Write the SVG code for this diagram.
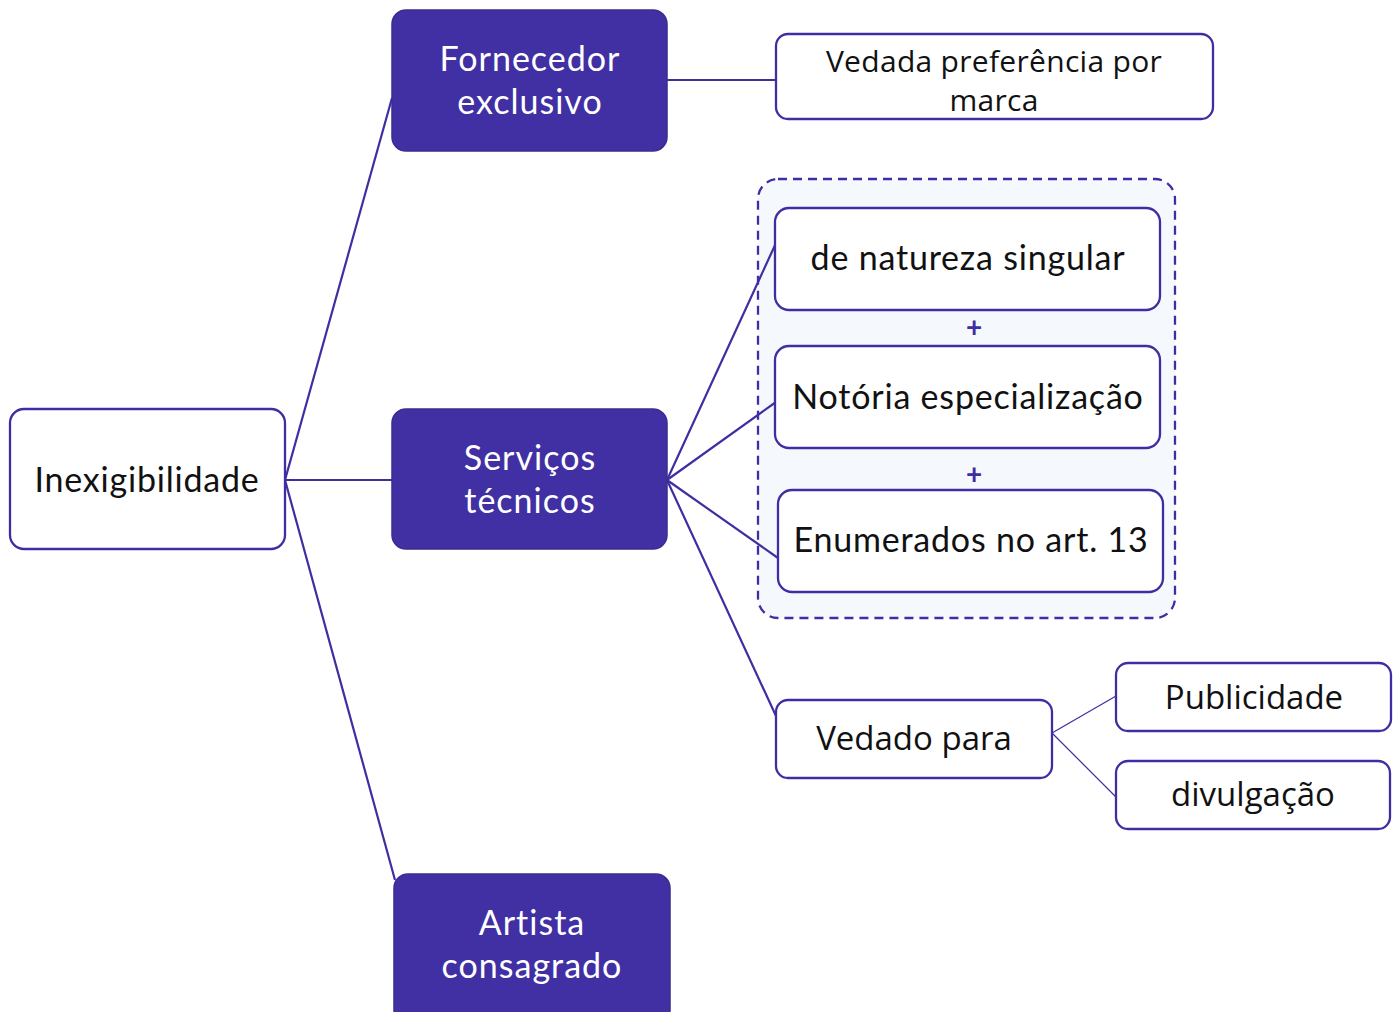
<svg xmlns="http://www.w3.org/2000/svg" width="1399" height="1012" viewBox="0 0 1399 1012">
<style>
.bg{fill:#ffffff}
.dark rect{fill:#4030A3;stroke:#3a2d8f;stroke-width:1.5}
.light rect{fill:#ffffff;stroke:#3F2EA1;stroke-width:2.3}
.dark text{fill:#ffffff;font-family:Lato,"Noto Sans",sans-serif;font-size:34px;letter-spacing:1px;text-anchor:middle}
.light text{fill:#111111;font-family:Lato,"Noto Sans",sans-serif;font-size:34px;letter-spacing:0.8px;text-anchor:middle}
.light text.s{font-family:"Open Sans","Noto Sans",sans-serif;font-size:30px;letter-spacing:0.3px}
.conn line{stroke:#3F2EA1;stroke-width:2.2;fill:none}
.conn line.thin{stroke-width:1.2}
.plus{fill:#3F2EA1;font-family:Lato,sans-serif;font-size:28px;font-weight:bold;text-anchor:middle}
</style>
<rect class="bg" x="0" y="0" width="1399" height="1012"/>
<g id="group-box">
<rect x="758" y="179" width="417" height="439" rx="20" fill="#F5F8FC" stroke="#3F2EA1" stroke-width="2.3" stroke-dasharray="9,6"/>
<text class="plus" x="974" y="337">+</text>
<text class="plus" x="974" y="484">+</text>
</g>
<g id="connectors" class="conn">
<line x1="285" y1="480" x2="392" y2="98"/>
<line x1="285" y1="480" x2="392" y2="480"/>
<line x1="285" y1="480" x2="395" y2="880"/>
<line x1="667" y1="80" x2="776" y2="80"/>
<line x1="667" y1="480" x2="776" y2="243"/>
<line x1="667" y1="480" x2="776" y2="402"/>
<line x1="667" y1="480" x2="778" y2="558"/>
<line x1="667" y1="480" x2="776" y2="716"/>
<line class="thin" x1="1052" y1="733" x2="1116" y2="696"/>
<line class="thin" x1="1052" y1="733" x2="1116" y2="797"/>
</g>
<g id="inexigibilidade" class="light">
<rect x="10" y="409" width="275" height="140" rx="14"/>
<text x="147" y="492">Inexigibilidade</text>
</g>
<g id="fornecedor" class="dark">
<rect x="392" y="10" width="275" height="141" rx="14"/>
<text x="530" y="71">Fornecedor</text>
<text x="530" y="114">exclusivo</text>
</g>
<g id="servicos" class="dark">
<rect x="392" y="409" width="275" height="140" rx="14"/>
<text x="530" y="470">Serviços</text>
<text x="530" y="513">técnicos</text>
</g>
<g id="artista" class="dark">
<rect x="394" y="874" width="276" height="150" rx="14"/>
<text x="532" y="935">Artista</text>
<text x="532" y="978">consagrado</text>
</g>
<g id="vedada" class="light">
<rect x="776" y="34" width="437" height="85" rx="12"/>
<text class="s" x="994" y="72">Vedada preferência por</text>
<text class="s" x="994" y="111">marca</text>
</g>
<g id="natureza" class="light">
<rect x="775" y="208" width="385" height="102" rx="14"/>
<text x="968" y="270">de natureza singular</text>
</g>
<g id="notoria" class="light">
<rect x="775" y="346" width="385" height="102" rx="14"/>
<text x="968" y="409">Notória especialização</text>
</g>
<g id="enumerados" class="light">
<rect x="778" y="490" width="385" height="102" rx="14"/>
<text x="971" y="552">Enumerados no art. 13</text>
</g>
<g id="vedado-para" class="light">
<rect x="776" y="700" width="276" height="78" rx="12"/>
<text class="s" x="914" y="750" style="font-size:33px;letter-spacing:0">Vedado para</text>
</g>
<g id="publicidade" class="light">
<rect x="1116" y="663" width="275" height="68" rx="12"/>
<text class="s" x="1254" y="709" style="font-size:33px;letter-spacing:0">Publicidade</text>
</g>
<g id="divulgacao" class="light">
<rect x="1116" y="761" width="274" height="68" rx="12"/>
<text class="s" x="1253" y="806" style="font-size:33px;letter-spacing:0">divulgação</text>
</g>
</svg>
